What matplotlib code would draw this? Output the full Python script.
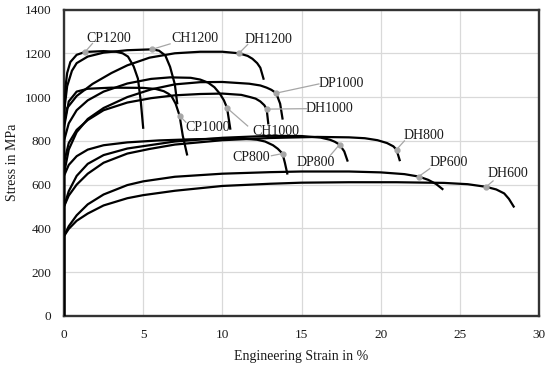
import numpy as np
import matplotlib
matplotlib.use("Agg")
import matplotlib.pyplot as plt

# ---------------- data (strain in %, stress in MPa) ----------------
cp1200_strain = [0, 0, 0.1, 0.2, 0.4, 0.8, 1.33, 2.5, 3.3, 3.7, 4.04, 4.4, 4.67, 4.85, 5.0]
cp1200_stress = [0, 900, 1050, 1110, 1160, 1193, 1206, 1210, 1207, 1200, 1185, 1140, 1084, 980, 860]

ch1200_strain = [0, 0, 0.2, 0.5, 0.8, 1.5, 2.5, 4.0, 5.56, 6.0, 6.4, 6.7, 7.0, 7.15]
ch1200_stress = [0, 930, 1050, 1120, 1155, 1185, 1203, 1214, 1218, 1212, 1190, 1138, 1058, 972]

dh1200_strain = [0, 0, 0.2, 0.8, 1.8, 3.0, 4.0, 5.4, 7.0, 8.6, 10.0, 11.05, 11.6, 11.9, 12.2, 12.4, 12.6]
dh1200_stress = [0, 880, 950, 1005, 1060, 1110, 1145, 1180, 1200, 1207, 1207, 1200, 1188, 1175, 1155, 1134, 1084]

cp1000_strain = [0, 0, 0.3, 0.8, 1.5, 3.0, 5.0, 5.8, 6.3, 6.6, 6.8, 7.05, 7.3, 7.5, 7.77]
cp1000_stress = [0, 860, 980, 1025, 1038, 1043, 1042, 1037, 1027, 1015, 1003, 970, 915, 824, 738]

ch1000_strain = [0, 0, 0.3, 0.8, 1.5, 2.5, 4.0, 5.5, 6.7, 8.0, 8.6, 9.1, 9.5, 9.85, 10.1, 10.3, 10.5]
ch1000_stress = [0, 800, 880, 940, 985, 1025, 1062, 1083, 1090, 1088, 1080, 1066, 1045, 1015, 985, 950, 856]

dp1000_strain = [0, 0, 0.3, 0.8, 1.5, 2.5, 4.0, 5.5, 7.0, 8.6, 10.0, 11.7, 12.4, 12.8, 13.1, 13.4, 13.65, 13.8]
dp1000_stress = [0, 650, 760, 840, 900, 950, 1000, 1035, 1058, 1068, 1069, 1061, 1053, 1043, 1033, 1018, 970, 902]

dh1000_strain = [0, 0, 0.3, 0.8, 1.5, 2.5, 4.0, 5.5, 7.0, 8.6, 10.0, 11.2, 11.75, 12.1, 12.4, 12.65, 12.8, 12.9]
dh1000_stress = [0, 700, 790, 850, 895, 940, 975, 995, 1008, 1014, 1016, 1010, 1000, 993, 980, 963, 945, 880]

cp800_strain = [0, 0, 0.3, 0.8, 1.5, 2.5, 4.0, 6.0, 8.0, 10.0, 11.5, 12.2, 12.7, 13.2, 13.5, 13.8, 13.95, 14.1]
cp800_stress = [0, 640, 690, 730, 760, 780, 793, 802, 807, 810, 809, 805, 797, 780, 764, 742, 700, 651]

dp800_strain = [0, 0, 0.3, 0.8, 1.5, 2.5, 4.0, 5.4, 7.0, 10.0, 13.0, 15.0, 16.2, 16.8, 17.1, 17.4, 17.7, 17.9]
dp800_stress = [0, 500, 570, 640, 695, 735, 765, 780, 797, 814, 823, 822, 815, 805, 796, 783, 752, 710]

dh800_strain = [0, 0, 0.3, 0.8, 1.5, 2.5, 4.0, 5.4, 7.0, 10.0, 13.0, 16.0, 18.0, 19.0, 19.8, 20.4, 20.8, 21.0, 21.2]
dh800_stress = [0, 500, 550, 600, 650, 700, 742, 763, 783, 803, 813, 818, 816, 812, 803, 790, 775, 760, 712]

dp600_strain = [0, 0, 0.3, 0.8, 1.5, 2.5, 4.0, 5.0, 7.0, 10.0, 13.0, 15.0, 18.0, 20.0, 21.5, 22.4, 23.0, 23.5, 23.9]
dp600_stress = [0, 365, 410, 460, 510, 555, 598, 615, 636, 650, 657, 660, 660, 656, 648, 637, 622, 603, 580]

dh600_strain = [0, 0, 0.3, 0.8, 1.5, 2.5, 4.0, 5.0, 7.0, 10.0, 13.0, 15.0, 18.0, 21.0, 24.0, 25.5, 26.66, 27.3, 27.8, 28.1, 28.4]
dh600_stress = [0, 365, 398, 435, 468, 505, 538, 552, 572, 594, 604, 609, 611, 611, 608, 602, 590, 578, 560, 535, 500]

curve_names = ["CP1200", "CH1200", "DH1200", "CP1000", "CH1000", "DP1000",
               "DH1000", "CP800", "DP800", "DH800", "DP600", "DH600"]
curve_strains = [cp1200_strain, ch1200_strain, dh1200_strain, cp1000_strain,
                 ch1000_strain, dp1000_strain, dh1000_strain, cp800_strain,
                 dp800_strain, dh800_strain, dp600_strain, dh600_strain]
curve_stresses = [cp1200_stress, ch1200_stress, dh1200_stress, cp1000_stress,
                  ch1000_stress, dp1000_stress, dh1000_stress, cp800_stress,
                  dp800_stress, dh800_stress, dp600_stress, dh600_stress]

# strain where each label's leader touches its curve
label_anchor_strain = [1.33, 5.56, 11.05, 7.3, 10.3, 13.4, 12.8, 13.8, 17.4, 21.0, 22.4, 26.66]

x_ticks = [0, 5, 10, 15, 20, 25, 30]
y_ticks = [0, 200, 400, 600, 800, 1000, 1200, 1400]
x_label = "Engineering Strain in %"
y_label = "Stress in MPa"

# ---------------- layout ----------------
label_text_pos = [(2.8, 1268), (8.3, 1268), (12.9, 1264), (9.05, 863), (13.4, 845),
                  (17.5, 1061), (16.75, 949), (11.85, 722), (15.9, 699),
                  (22.7, 826), (24.3, 699), (28.05, 649)]
leader_start = [(1.8, 1245), (6.7, 1243), (11.6, 1240), (7.7, 885), (11.6, 868),
                (16.1, 1060), (15.3, 947), (13.1, 732), (16.8, 732),
                (21.5, 800), (23.1, 673), (27.1, 617)]

plt.rcParams['font.family'] = ['Liberation Serif', 'DejaVu Serif']

fig = plt.figure(figsize=(5.5, 3.66), dpi=100)
ax = fig.add_axes([64 / 550, 50 / 366, 475 / 550, 306.5 / 366])

for sx, sy in zip(curve_strains, curve_stresses):
    ax.plot(sx, sy, color="black", lw=1.6, solid_joinstyle="round", zorder=3)

for name, sx, sy, a, tp, ls in zip(curve_names, curve_strains, curve_stresses,
                                   label_anchor_strain, label_text_pos, leader_start):
    ay = np.interp(a, sx[1:], sy[1:])
    ax.plot([ls[0], a], [ls[1], ay], color="#a6a6a6", lw=0.9, zorder=4)
    ax.plot([a], [ay], marker="o", ms=3.5, color="#a6a6a6", zorder=5)
    ax.text(tp[0], tp[1], name, ha="center", va="center", fontsize=10,
            color="#1a1a1a", zorder=6)

ax.set_xlim(0, 30)
ax.set_ylim(0, 1400)
ax.set_xticks(x_ticks)
ax.set_yticks(y_ticks)
ax.grid(True, color="#d9d9d9", lw=0.9)
ax.set_axisbelow(True)
ax.tick_params(length=0, labelsize=9.5, colors="#1a1a1a", pad=9)
for sp in ax.spines.values():
    sp.set_color("#333333")
    sp.set_linewidth(1.7)
ax.set_xlabel(x_label, fontsize=10, color="#1a1a1a", labelpad=7)
ax.set_ylabel(y_label, fontsize=10, color="#1a1a1a", labelpad=4)

fig.savefig("out.png", dpi=100)
